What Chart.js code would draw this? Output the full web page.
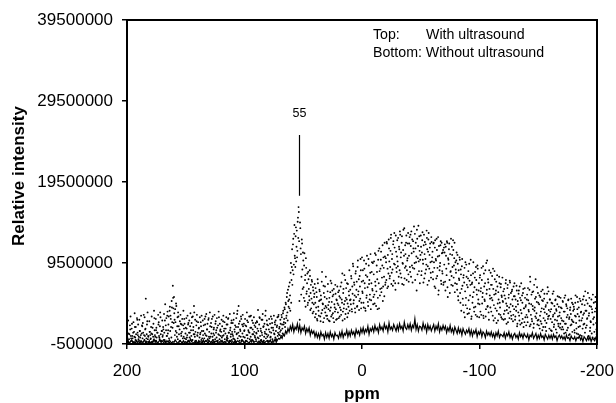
<!DOCTYPE html>
<html>
<head>
<meta charset="utf-8">
<script src="https://cdn.jsdelivr.net/npm/chart.js@4/dist/chart.umd.min.js"></script>
<style>
  body { margin: 0; background: #fff; }
  canvas { display: block; }
</style>
</head>
<body>
<canvas id="nmr-chart" width="616" height="403"></canvas>
<script>
// ppm axis runs 200 -> -200, intensities are in millions
const xTicks = [200, 100, 0, -100, -200];
const yTickValues = [-0.5, 9.5, 19.5, 29.5, 39.5];
const yTickLabels = ["-500000", "9500000", "19500000", "29500000", "39500000"];

// Top trace (with ultrasound), read in two interleaved passes:
// pass A on whole/half ppm from 200 down to -200, pass B on the quarter ppm in between
const topStartA = 200, topStartB = 199.75, topStep = 0.5;
const topValuesA = [
  1.2, 0.1, 2.4, -0.3, 0.7, 1.8, 2.9, 0.2, 1.4, 0.5, -0.4, 2.2, 1.0, 3.3, 0.3, 1.6, -0.1, 2.7, 0.9, 1.9,
  0.4, 2.5, 1.1, -0.2, 3.0, 0.8, 1.7, 2.1, -0.4, 0.6, 2.8, 1.3, 5.1, 0.2, 1.9, 3.4, 0.5, -0.3, 2.3, 1.0,
  0.1, 1.6, 2.9, 0.7, -0.2, 2.0, 3.6, 1.2, 0.4, 2.6, 1.5, -0.4, 0.9, 3.1, 2.2, 0.3, 1.7, 2.8, -0.1, 1.1,
  2.4, 0.6, 1.3, 3.2, 0.0, 4.4, 1.8, 2.7, 0.5, 3.5, 1.2, 2.9, -0.3, 4.1, 3.0, 1.6, 4.8, 2.2, 6.7, 3.9,
  5.3, 2.5, 3.8, 1.1, 4.2, 0.4, 2.8, 3.4, 1.7, -0.2, 2.3, 3.1, 0.8, 1.9, 2.6, 0.2, 3.6, 1.4, 2.0, -0.4,
  1.5, 2.7, 0.3, 3.0, 1.9, -0.1, 2.4, 0.9, 3.3, 1.2, 2.1, 0.0, 2.9, 1.6, 4.2, 0.7, 2.5, -0.3, 1.8, 3.1,
  0.5, 2.2, 1.4, -0.2, 2.8, 0.9, 1.7, 3.0, 0.2, 2.4, 1.1, -0.4, 2.6, 1.9, 0.6, 3.2, 1.3, 2.0, -0.1, 2.7,
  1.0, 3.4, 0.4, 2.1, 1.6, -0.3, 2.9, 0.8, 1.5, 3.1, 0.1, 2.3, 1.2, 2.7, -0.2, 1.8, 3.5, 0.6, 2.0, 1.3,
  -0.1, 2.5, 1.7, 0.5, 3.0, 1.1, 2.2, -0.4, 1.4, 2.8, 0.3, 1.9, 2.6, 0.9, -0.2, 3.2, 1.5, 0.7, 2.4, 1.0,
  2.1, 0.2, 3.3, 1.3, 1.8, -0.3, 2.7, 0.8, 3.6, 1.6, 4.2, 0.5, 2.3, 1.1, 2.9, -0.1, 1.9, 3.1, 0.4, 2.0,
  1.2, 2.6, -0.2, 1.7, 3.4, 0.6, 2.2, 1.0, 2.9, 0.1, 1.5, 3.0, -0.4, 2.4, 1.3, 0.7, 2.8, 1.8, 0.3, 2.1,
  0.9, 2.3, 1.4, 3.7, 0.2, 1.9, 2.7, -0.3, 1.1, 2.5, 0.6, 3.2, 1.6, -0.1, 2.0, 0.8, 3.6, 1.3, 2.4, 0.4,
  1.8, -0.2, 2.6, 1.0, 0.3, 2.9, 1.5, 2.1, -0.4, 1.2, 3.0, 0.7, 1.9, 2.4, 0.1, 1.6, 2.8, 0.9, 3.1, 1.4,
  0.6, 2.5, 1.2, 3.1, 1.9, 0.8, 3.6, 2.2, 4.0, 1.6, 4.6, 2.7, 5.3, 3.4, 6.2, 4.1, 5.0, 7.1, 3.6, 9.5,
  7.4, 11.2, 8.6, 12.5, 9.3, 14.2, 10.1, 12.8, 9.7, 13.5, 11.0, 15.1, 16.4, 12.2, 2.5, 13.8, 10.6, 7.8, 11.9, 6.3,
  9.8, 5.2, 10.7, 7.4, 4.1, 8.9, 6.0, 8.2, 4.6, 7.5, 5.4, 8.6, 3.7, 6.8, 5.1, 7.2, 3.3, 6.1, 4.4, 5.7,
  2.8, 6.4, 4.0, 5.3, 2.4, 7.0, 3.6, 4.8, 6.0, 2.9, 5.5, 3.3, 8.4, 4.5, 2.2, 5.8, 3.9, 6.6, 4.2, 3.0,
  5.1, 2.6, 6.9, 3.8, 4.7, 2.3, 5.9, 4.0, 7.0, 3.1, 5.4, 2.7, 6.3, 4.4, 3.5, 5.7, 2.5, 4.9, 6.6, 3.4,
  4.3, 6.1, 2.9, 5.2, 3.7, 7.1, 4.6, 2.4, 5.8, 3.9, 8.0, 4.8, 3.2, 6.4, 5.0, 2.8, 6.9, 4.1, 5.5, 3.6,
  6.2, 4.4, 7.6, 3.5, 5.7, 9.1, 4.9, 6.8, 3.9, 8.2, 5.3, 7.2, 4.2, 9.8, 6.0, 3.7, 7.9, 5.1, 8.6, 4.6,
  10.2, 5.8, 7.3, 4.0, 8.8, 6.4, 3.6, 9.4, 5.5, 7.8, 4.7, 10.0, 6.9, 5.0, 8.3, 3.8, 7.0, 9.6, 6.1, 4.4,
  8.1, 5.6, 10.7, 6.7, 4.2, 9.2, 7.5, 5.2, 11.0, 3.9, 8.5, 6.3, 9.9, 5.9, 7.7, 11.7, 6.6, 8.9, 5.4, 10.3,
  7.1, 9.6, 12.1, 6.4, 10.5, 8.2, 11.3, 7.6, 9.0, 12.6, 6.9, 10.0, 8.7, 11.8, 7.3, 13.2, 9.3, 6.2, 10.9, 8.4,
  12.3, 9.1, 7.0, 11.5, 8.6, 13.0, 10.2, 7.7, 12.8, 9.5, 11.1, 6.8, 13.8, 8.9, 10.6, 12.0, 7.4, 9.8, 11.9, 8.1,
  10.4, 12.7, 8.4, 11.6, 13.4, 9.2, 7.1, 12.2, 10.9, 8.8, 13.1, 11.3, 9.6, 6.1, 12.5, 10.1, 14.1, 8.5, 11.0, 9.9,
  12.9, 8.0, 10.8, 13.3, 9.4, 11.7, 7.6, 12.1, 10.0, 8.7, 13.5, 11.2, 9.1, 12.4, 7.3, 10.5, 11.9, 8.3, 12.7, 9.7,
  10.9, 7.5, 12.0, 8.9, 11.4, 6.4, 9.8, 12.5, 7.9, 10.3, 5.6, 11.6, 8.6, 9.5, 12.2, 6.9, 10.7, 8.2, 11.1, 7.1,
  9.3, 11.8, 6.1, 10.4, 8.0, 12.0, 5.3, 9.9, 11.2, 7.4, 10.6, 8.5, 6.8, 11.5, 9.0, 12.3, 7.7, 10.1, 5.9, 9.6,
  8.3, 10.8, 6.2, 9.4, 4.9, 7.6, 10.2, 5.8, 8.7, 3.6, 9.1, 6.7, 4.3, 8.0, 7.1, 2.8, 9.6, 5.2, 7.8, 3.9,
  6.5, 8.5, 3.3, 7.3, 5.5, 9.9, 2.6, 6.9, 4.6, 8.2, 5.9, 3.5, 7.7, 4.1, 9.0, 6.2, 2.9, 8.8, 5.0, 7.0,
  4.4, 8.0, 6.0, 3.1, 7.4, 5.3, 9.1, 2.7, 6.6, 4.8, 8.6, 3.8, 5.7, 9.8, 4.2, 7.1, 2.5, 6.3, 5.1, 8.3,
  3.5, 6.8, 4.9, 8.8, 2.4, 5.6, 7.5, 3.9, 6.1, 2.1, 8.0, 4.5, 5.9, 3.2, 7.0, 4.0, 6.5, 2.8, 5.3, 7.7,
  4.7, 2.5, 6.3, 3.6, 5.1, 7.4, 2.0, 4.2, 6.8, 3.3, 5.6, 2.7, 7.1, 4.4, 3.0, 6.0, 5.0, 2.3, 6.6, 3.8,
  5.4, 2.9, 4.1, 6.7, 1.7, 4.8, 3.4, 6.1, 2.4, 5.2, 3.7, 7.0, 2.1, 4.6, 5.8, 1.6, 3.9, 6.4, 2.8, 4.3,
  3.1, 5.6, 2.2, 4.9, 3.5, 6.2, 7.8, 1.9, 4.4, 2.6, 5.9, 3.8, 1.5, 6.8, 4.0, 2.9, 5.3, 3.3, 6.5, 2.4,
  4.6, 1.8, 5.5, 3.0, 2.3, 6.0, 3.9, 1.2, 4.8, 2.7, 5.1, 3.4, 1.6, 4.3, 2.1, 5.7, 6.5, 2.9, 3.7, 1.4,
  5.0, 2.6, 3.8, 1.1, 4.5, 2.9, 6.0, 1.9, 3.3, 4.9, 1.3, 3.6, 2.4, 5.4, 2.0, 4.1, 3.0, 1.5, 5.2, 2.7,
  3.9, 1.6, 4.7, 2.3, 0.8, 3.5, 5.5, 2.0, 4.2, 1.2, 3.1, 4.9, 0.6, 2.8, 3.7, 1.8, 5.1, 2.5, 1.0, 4.4,
  2.2, 3.8, 0.9, 4.6, 2.9, 1.4, 5.3, 3.2, 0.7, 4.0, 2.4, 1.7, 4.8, 3.5, 0.5, 2.7, 5.0, 1.9, 3.3, 4.3,
  6.0, 1.5, 3.6, 2.6, 4.5, 0.4, 3.0, 5.2, 1.1, 2.3, 4.1, 0.8, 3.4, 5.6, 1.9, 2.8, 0.2, 4.7, 3.9, 1.3,
  2.0
];
const topValuesB = [
  0.3, -0.2, 0.8, 0.1, -0.4, 1.3, 0.5, -0.1, 2.0, 0.2, 0.9, -0.3, 0.4, 1.6, 0.0, 0.7, -0.2, 2.5, 0.6, 0.1,
  -0.1, 1.1, 0.3, 0.6, -0.4, 1.8, 0.2, 0.9, 3.1, 0.0, 0.5, 1.4, -0.2, 0.7, 2.3, 0.1, 0.4, -0.3, 1.0, 0.6,
  0.2, 0.8, -0.3, 1.5, 0.4, 0.0, 2.7, 0.6, -0.1, 1.2, 0.3, 0.9, -0.4, 1.9, 0.5, 0.1, 3.4, 0.7, -0.2, 1.1,
  0.4, 1.6, 0.0, 0.9, 2.4, -0.2, 1.2, 0.5, 3.0, 0.8, 1.9, 0.2, 3.6, 1.1, 2.6, 0.3, 4.0, 1.5, 5.2, 2.1,
  3.3, 0.6, 2.2, 4.5, 0.9, 1.7, 0.1, 2.9, 0.7, 1.3, -0.1, 2.0, 0.5, 1.0, -0.3, 1.8, 0.4, 2.6, 0.2, 0.8,
  0.1, 1.4, 0.6, -0.2, 2.1, 0.9, 0.3, 1.7, -0.4, 0.5, 2.8, 0.0, 1.2, 0.7, 3.4, 0.4, 1.0, -0.1, 2.3, 0.6,
  0.9, -0.3, 1.5, 0.3, 0.7, 2.2, 0.0, 1.1, -0.2, 0.6, 1.8, 0.2, 0.8, 2.9, -0.1, 0.5, 1.3, 0.1, 2.5, 0.4,
  0.2, 1.7, -0.4, 0.8, 2.6, 0.4, 0.0, 1.3, 0.6, -0.2, 2.0, 0.9, 0.3, 1.5, -0.1, 0.7, 2.8, 0.1, 1.1, 0.5,
  1.0, 0.3, -0.2, 2.3, 0.6, 1.4, 0.1, 0.8, -0.4, 1.9, 0.5, 0.2, 2.7, 0.9, -0.1, 1.2, 0.4, 2.1, 0.0, 0.7,
  0.5, 2.5, 0.1, 1.0, -0.3, 1.6, 0.7, 3.2, 0.2, 0.9, 2.0, -0.1, 1.3, 0.4, 2.6, 0.0, 0.8, 1.7, -0.2, 1.1,
  0.3, 1.8, -0.1, 0.6, 2.4, 0.2, 1.2, -0.4, 0.9, 2.9, 0.4, 1.5, 0.0, 0.7, 2.1, -0.2, 1.0, 0.5, 1.6, 0.1,
  0.8, 2.2, 0.3, 1.1, -0.2, 2.8, 0.5, 1.4, 0.0, 0.9, 2.5, -0.3, 1.7, 0.4, 1.0, 3.0, 0.2, 0.7, 1.9, -0.1,
  0.6, 1.3, -0.2, 2.0, 0.4, 0.9, 2.6, 0.1, 1.5, -0.4, 0.8, 2.2, 0.3, 1.1, 0.0, 1.8, 0.5, 2.9, 0.7, 1.6,
  1.0, 2.0, 0.5, 2.8, 1.4, 3.3, 1.9, 2.6, 3.8, 2.1, 4.4, 3.0, 5.8, 2.4, 4.8, 6.6, 3.9, 5.5, 8.3, 4.6,
  9.0, 6.8, 11.8, 8.1, 13.1, 10.4, 9.0, 13.9, 11.5, 10.2, 14.6, 12.6, 15.8, 4.8, 14.5, 11.3, 5.6, 12.4, 8.7, 10.8,
  6.5, 9.2, 4.8, 8.0, 10.1, 5.7, 7.0, 4.3, 8.4, 6.3, 4.9, 7.9, 5.8, 3.9, 7.4, 4.6, 6.5, 3.5, 5.3, 6.9,
  4.6, 3.2, 5.9, 2.6, 7.5, 4.1, 3.0, 6.2, 4.9, 2.3, 5.0, 7.2, 3.7, 4.4, 6.7, 2.7, 5.3, 3.4, 7.8, 4.0,
  3.0, 6.0, 4.3, 2.4, 5.2, 3.6, 7.3, 2.9, 4.7, 6.1, 3.3, 5.6, 2.2, 4.0, 6.8, 3.8, 5.0, 2.6, 4.5, 5.9,
  2.7, 5.4, 4.0, 6.6, 3.1, 5.0, 8.2, 3.5, 6.3, 4.4, 2.6, 7.4, 5.2, 3.8, 7.0, 4.5, 3.3, 6.0, 8.6, 4.9,
  5.0, 7.9, 3.8, 6.6, 9.4, 4.5, 7.1, 5.5, 3.4, 8.5, 6.2, 4.1, 9.0, 5.6, 7.5, 4.8, 6.6, 10.0, 3.9, 7.2,
  6.0, 8.6, 4.6, 9.8, 7.0, 3.9, 8.0, 5.2, 10.4, 6.5, 4.2, 9.2, 7.4, 5.6, 10.6, 4.9, 8.4, 6.3, 9.5, 5.3,
  9.7, 4.5, 7.2, 10.5, 6.0, 8.4, 3.8, 9.9, 7.0, 11.3, 5.5, 8.8, 10.9, 6.4, 9.2, 4.8, 10.2, 7.8, 12.0, 6.8,
  10.1, 7.4, 11.9, 8.8, 6.6, 12.4, 9.7, 7.9, 11.0, 13.0, 8.3, 10.6, 6.7, 12.2, 9.4, 11.4, 7.0, 12.9, 8.9, 10.3,
  9.7, 12.6, 7.8, 11.2, 13.4, 8.2, 10.8, 12.0, 6.9, 9.4, 13.6, 10.4, 7.6, 11.7, 9.1, 12.9, 8.6, 10.1, 13.2, 7.2,
  11.9, 9.0, 13.0, 7.8, 10.7, 12.4, 8.9, 11.3, 14.0, 9.5, 7.4, 12.0, 10.3, 13.6, 8.1, 11.6, 9.7, 12.8, 7.0, 10.5,
  11.5, 8.5, 12.3, 9.9, 7.1, 13.0, 10.6, 8.2, 11.8, 9.3, 12.6, 6.8, 10.9, 13.2, 8.8, 11.4, 9.6, 7.7, 12.1, 10.2,
  8.4, 11.9, 9.6, 6.6, 12.3, 10.0, 7.6, 11.1, 8.9, 12.7, 6.1, 10.4, 9.1, 11.7, 7.3, 12.0, 8.5, 10.8, 6.8, 11.4,
  10.8, 7.2, 11.5, 8.8, 12.2, 6.5, 10.1, 9.4, 11.9, 5.8, 8.4, 12.5, 7.9, 10.5, 6.7, 11.1, 9.2, 12.0, 7.0, 8.7,
  9.8, 6.9, 10.5, 5.4, 8.6, 7.4, 9.9, 4.6, 8.1, 6.3, 10.0, 5.1, 7.7, 3.4, 8.9, 6.0, 4.3, 9.3, 6.8, 3.2,
  7.6, 4.9, 9.4, 3.8, 6.8, 8.0, 2.9, 7.1, 5.3, 9.6, 4.0, 6.5, 8.4, 3.1, 7.4, 5.6, 9.2, 4.5, 6.1, 2.8,
  7.7, 3.5, 6.4, 8.9, 4.5, 5.8, 3.0, 8.2, 5.0, 7.0, 2.9, 9.5, 6.2, 4.1, 7.5, 3.4, 8.6, 5.5, 4.0, 6.8,
  5.2, 7.9, 3.0, 6.3, 4.3, 8.5, 2.7, 5.7, 7.2, 3.6, 6.6, 2.4, 5.0, 7.8, 4.6, 3.1, 6.9, 5.5, 2.6, 4.8,
  6.0, 3.2, 5.5, 2.6, 7.0, 4.5, 3.7, 6.4, 2.2, 5.2, 4.0, 7.3, 3.5, 5.8, 2.6, 6.2, 4.2, 3.1, 5.4, 7.0,
  2.5, 5.0, 3.6, 6.1, 2.0, 4.4, 5.7, 3.0, 6.6, 1.9, 4.9, 3.3, 5.5, 2.6, 6.3, 3.9, 2.2, 5.2, 4.1, 1.8,
  5.0, 2.8, 6.4, 3.7, 4.5, 1.7, 7.2, 3.1, 5.6, 2.3, 4.2, 6.0, 2.0, 3.6, 5.1, 7.5, 2.7, 4.7, 1.9, 5.8,
  2.5, 4.4, 1.4, 5.3, 3.5, 2.0, 4.9, 6.2, 1.6, 3.8, 5.7, 2.4, 4.1, 1.1, 3.2, 4.6, 2.6, 6.0, 3.0, 5.0,
  3.5, 1.2, 4.6, 2.2, 5.7, 3.1, 1.6, 4.2, 2.5, 5.0, 3.8, 0.9, 4.4, 2.9, 1.7, 5.3, 3.4, 2.0, 4.0, 1.3,
  2.4, 4.8, 1.3, 3.5, 5.2, 2.0, 0.9, 4.4, 2.8, 3.9, 1.5, 5.0, 2.6, 0.7, 4.0, 3.2, 1.9, 4.6, 2.3, 3.6,
  4.1, 1.2, 3.0, 5.5, 2.1, 0.8, 3.8, 4.7, 1.6, 2.9, 5.1, 0.6, 3.4, 2.4, 4.4, 1.4, 3.1, 5.4, 2.0, 0.9,
  3.6, 4.9, 1.8, 2.7, 5.8, 0.5, 3.3, 4.2, 1.5, 2.2, 5.0, 3.8, 0.3, 2.6, 4.6, 1.0, 3.5, 5.3, 2.1, 0.7
];

// Bottom trace (without ultrasound), one point every 1 ppm from 200 down to -200
const bottomStart = 200, bottomStep = 1;
const bottomValues = [
  -0.3, -0.1, -0.4, -0.2, 0.0, -0.3, -0.2, -0.4, -0.1, -0.3,
  -0.2, -0.4, -0.1, -0.3, -0.2, 0.0, -0.4, -0.2, -0.3, -0.1,
  -0.4, -0.2, -0.3, 0.1, -0.3, -0.1, -0.4, -0.2, 0.0, -0.3,
  -0.1, -0.3, -0.2, -0.4, -0.1, -0.3, 0.0, -0.2, -0.4, -0.2,
  -0.3, 0.0, -0.2, -0.4, -0.3, -0.1, -0.2, -0.4, -0.1, -0.3,
  -0.2, -0.4, -0.1, -0.3, 0.1, -0.2, -0.3, -0.4, -0.1, -0.2,
  -0.4, -0.1, -0.3, -0.2, -0.4, 0.0, -0.3, -0.1, -0.2, -0.4,
  -0.1, -0.3, -0.2, 0.0, -0.4, -0.2, -0.1, -0.3, -0.4, -0.2,
  -0.3, -0.1, -0.4, -0.2, -0.3, 0.1, -0.2, -0.4, -0.1, -0.3,
  -0.2, -0.4, 0.0, -0.3, -0.1, -0.2, -0.4, -0.3, 0.0, -0.2,
  -0.4, -0.2, -0.1, -0.3, -0.4, -0.1, -0.2, 0.0, -0.3, -0.2,
  -0.1, -0.3, -0.4, -0.2, 0.0, -0.3, -0.1, -0.4, -0.2, -0.1,
  -0.3, -0.2, 0.0, -0.4, -0.1, -0.2, 0.1, -0.3, 0.0, 0.2,
  0.1, 0.4, 0.2, 0.7, 0.5, 1.1, 0.8, 1.4, 1.0, 1.7,
  1.2, 1.9, 1.0, 1.6, 1.3, 2.0, 1.1, 1.8, 0.9, 1.5,
  1.2, 1.7, 0.8, 1.4, 1.0, 1.5, 0.6, 1.2, 0.8, 1.1,
  0.4, 0.9, 0.3, 0.8, 0.2, 1.0, 0.5, 0.7, 0.1, 0.9,
  0.3, 0.8, 0.2, 1.0, 0.4, 0.7, 0.1, 0.9, 0.5, 0.6,
  0.2, 0.9, 0.4, 1.1, 0.3, 0.8, 0.6, 1.2, 0.4, 1.0,
  0.5, 1.2, 0.7, 1.0, 0.4, 1.3, 0.8, 1.1, 0.6, 1.4,
  0.9, 1.5, 0.8, 1.3, 1.0, 1.7, 0.7, 1.4, 1.1, 1.6,
  1.0, 1.8, 1.2, 1.5, 0.9, 1.9, 1.3, 1.6, 1.1, 2.0,
  1.4, 1.7, 1.0, 2.1, 1.3, 1.6, 1.2, 1.9, 1.5, 1.1,
  1.8, 1.2, 2.0, 1.4, 1.7, 1.1, 2.2, 1.5, 1.3, 1.9,
  1.4, 2.0, 1.2, 1.8, 1.5, 2.6, 1.3, 1.9, 1.1, 1.7,
  1.6, 1.2, 2.1, 1.4, 1.8, 1.0, 1.9, 1.3, 1.7, 1.1,
  1.5, 1.9, 1.1, 1.7, 1.3, 2.0, 1.0, 1.6, 1.2, 1.8,
  1.3, 1.7, 0.9, 1.5, 1.1, 1.8, 1.0, 1.4, 0.8, 1.6,
  1.2, 0.8, 1.5, 0.9, 1.3, 0.6, 1.4, 1.0, 0.7, 1.2,
  0.9, 1.4, 0.6, 1.2, 0.5, 1.1, 0.8, 1.3, 0.4, 1.0,
  0.7, 1.2, 0.4, 1.0, 0.8, 0.3, 1.1, 0.6, 0.9, 0.5,
  1.0, 0.4, 0.8, 0.2, 0.9, 0.5, 1.1, 0.3, 0.7, 0.6,
  0.4, 0.9, 0.2, 0.8, 0.5, 1.0, 0.3, 0.7, 0.1, 0.6,
  0.8, 0.3, 0.6, 0.1, 0.9, 0.4, 0.7, 0.2, 0.8, 0.5,
  0.3, 0.7, 0.0, 0.6, 0.4, 0.9, 0.2, 0.5, 0.8, 0.1,
  0.6, 0.2, 0.8, 0.3, 0.5, 0.0, 0.7, 0.4, 0.1, 0.6,
  0.2, 0.6, 0.1, 0.7, 0.3, 0.5, -0.1, 0.4, 0.6, 0.2,
  0.5, 0.1, 0.4, 0.0, 0.6, 0.2, 0.3, -0.1, 0.5, 0.2,
  0.1, 0.4, -0.1, 0.3, 0.2, 0.5, 0.0, 0.3, -0.2, 0.4,
  0.2, -0.1, 0.3, 0.0, 0.4, -0.2, 0.2, 0.1, -0.1, 0.3,
  0.0
];

// Peak marker at 55 ppm
const peakLabel = "55";
const peakPpm = 54;
const markerTop = 25.3, markerBottom = 17.8, labelLevel = 27.9;

const FONT = '"Liberation Sans", Arial, Helvetica, sans-serif';

const topPoints = topValuesA.map((v, i) => ({ x: topStartA - i * topStep, y: v }))
  .concat(topValuesB.map((v, i) => ({ x: topStartB - i * topStep, y: v })));
const bottomPoints = bottomValues.map((v, i) => ({ x: bottomStart - i * bottomStep, y: v }));

// frame, peak marker, y title and the top-right note
const overlay = {
  id: "overlay",
  afterDraw(chart) {
    const { ctx, chartArea: a, scales: { x, y } } = chart;
    ctx.save();
    ctx.strokeStyle = "#000";
    ctx.lineWidth = 2;
    ctx.strokeRect(a.left, a.top, a.right - a.left, a.bottom - a.top);

    const px = Math.round(x.getPixelForValue(peakPpm)) + 0.5;
    ctx.lineWidth = 1.2;
    ctx.beginPath();
    ctx.moveTo(px, y.getPixelForValue(markerTop));
    ctx.lineTo(px, y.getPixelForValue(markerBottom));
    ctx.stroke();

    ctx.fillStyle = "#000";
    ctx.textBaseline = "middle";
    ctx.textAlign = "center";
    ctx.font = "12.5px " + FONT;
    ctx.fillText(peakLabel, px, y.getPixelForValue(labelLevel));

    // y axis title sits a little above the plot's middle in the original
    ctx.save();
    ctx.translate(19, 176);
    ctx.rotate(-Math.PI / 2);
    ctx.font = "bold 17px " + FONT;
    ctx.fillText("Relative intensity", 0, 0);
    ctx.restore();

    ctx.textAlign = "left";
    ctx.font = "14.2px " + FONT;
    ctx.fillText("Top:", 373, 35);
    ctx.fillText("With ultrasound", 426, 35);
    ctx.fillText("Bottom: Without ultrasound", 373, 53);
    ctx.restore();
  }
};

const ctx = document.getElementById("nmr-chart").getContext("2d");
new Chart(ctx, {
  type: "scatter",
  data: {
    datasets: [
      {
        label: "With ultrasound",
        data: topPoints,
        pointRadius: 0.95,
        pointBorderWidth: 0,
        pointBackgroundColor: "#000",
        showLine: false
      },
      {
        label: "Without ultrasound",
        data: bottomPoints,
        showLine: true,
        borderColor: "#000",
        borderWidth: 1.2,
        pointRadius: 0,
        tension: 0
      }
    ]
  },
  options: {
    responsive: false,
    animation: false,
    devicePixelRatio: 1,
    layout: { padding: { left: 0, right: 19, top: 20, bottom: 0 } },
    plugins: {
      legend: { display: false },
      tooltip: { enabled: false }
    },
    scales: {
      x: {
        type: "linear",
        reverse: true,
        min: -200,
        max: 200,
        afterBuildTicks: (scale) => { scale.ticks = xTicks.map(v => ({ value: v })); },
        afterFit: (scale) => { scale.height = 59; scale.paddingLeft = 0; scale.paddingRight = 0; },
        border: { display: false },
        grid: { drawOnChartArea: false, drawTicks: true, tickLength: 5, color: "#000", lineWidth: 1.5 },
        ticks: {
          color: "#000",
          padding: 12,
          maxRotation: 0,
          font: { family: FONT, size: 17 },
          callback: (v) => String(v)
        },
        title: {
          display: true,
          text: "ppm",
          color: "#000",
          font: { family: FONT, size: 17, weight: "bold", lineHeight: 1 },
          padding: { top: 0, bottom: 0 }
        }
      },
      y: {
        type: "linear",
        min: -0.5,
        max: 39.5,
        afterBuildTicks: (scale) => { scale.ticks = yTickValues.map(v => ({ value: v })); },
        afterFit: (scale) => { scale.width = 127; scale.paddingTop = 0; scale.paddingBottom = 0; },
        border: { display: false },
        grid: { drawOnChartArea: false, drawTicks: true, tickLength: 5, color: "#000", lineWidth: 1.5 },
        ticks: {
          color: "#000",
          padding: 9,
          font: { family: FONT, size: 17 },
          callback: (v) => yTickLabels[yTickValues.indexOf(v)]
        },
        title: { display: false }
      }
    }
  },
  plugins: [overlay]
});
</script>
</body>
</html>
